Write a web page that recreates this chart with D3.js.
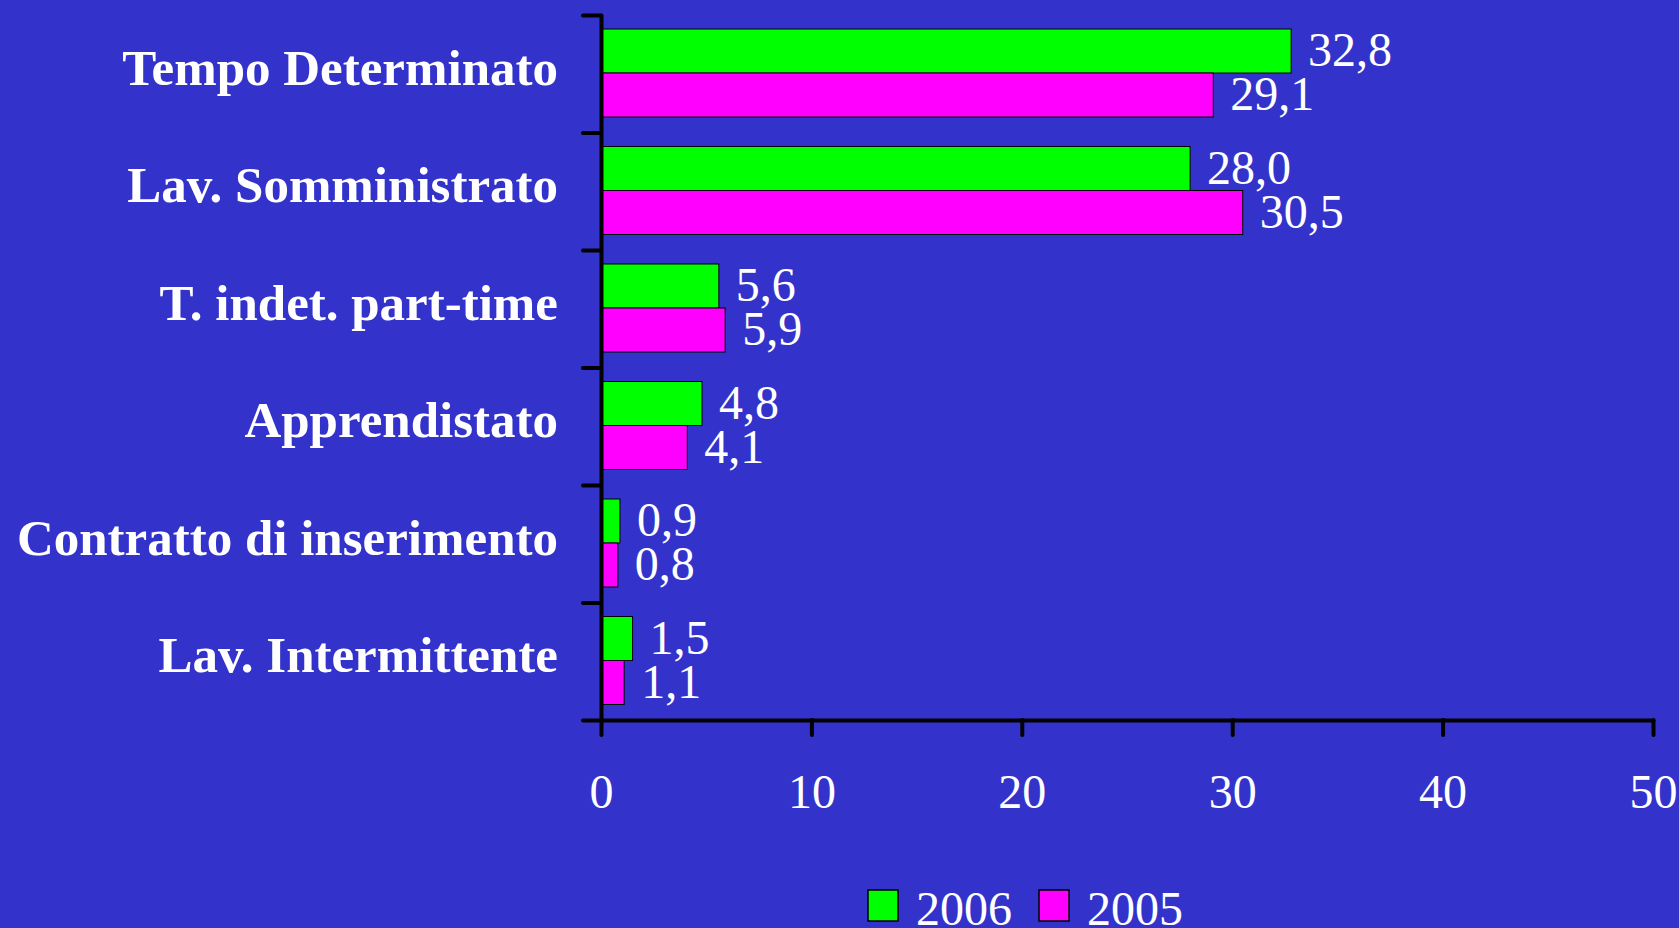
<!DOCTYPE html>
<html lang="it">
<head>
<meta charset="UTF-8">
<script src="https://d3js.org/d3.v7.min.js"></script>
<title>Contratti 2006 - 2005</title>
<style>
  body { margin: 0; background: #3333cc; }
  svg { display: block; }
</style>
</head>
<body>
<div id="chart"></div>
<script>
const categories = ["Tempo Determinato", "Lav. Somministrato", "T. indet. part-time",
                    "Apprendistato", "Contratto di inserimento", "Lav. Intermittente"];
const series = ["2006", "2005"];
const values2006 = [32.8, 28.0, 5.6, 4.8, 0.9, 1.5];
const values2005 = [29.1, 30.5, 5.9, 4.1, 0.8, 1.1];
const xTicks = [0, 10, 20, 30, 40, 50];
const colors = ["#00ff00", "#ff00ff"];

const width = 1679, height = 928;
const plotLeft = 601, plotRight = 1653, plotTop = 15, plotBottom = 720;

const itFormat = d3.formatLocale({decimal: ",", thousands: ".", grouping: [3], currency: ["", " €"]}).format(".1f");

const rows = categories.map((c, i) => ({cat: c, vals: [values2006[i], values2005[i]]}));

const svg = d3.select("#chart").append("svg")
    .attr("width", width)
    .attr("height", height)
    .style("font-family", "'Liberation Serif', 'Times New Roman', serif");

svg.append("rect").attr("width", width).attr("height", height).attr("fill", "#3333cc");

const x = d3.scaleLinear([0, 50], [plotLeft, plotRight]);
const y = d3.scaleBand(categories, [plotTop, plotBottom]);
const yInner = d3.scaleBand(series, [14, 102]);
const yEdge = d3.scaleLinear([0, categories.length], [plotTop, plotBottom]);

// bars
const group = svg.append("g")
  .selectAll("g")
  .data(rows)
  .join("g")
    .attr("transform", d => `translate(0,${y(d.cat)})`);

group.selectAll("rect")
  .data(d => d.vals.map((v, j) => ({v, s: series[j], j})))
  .join("rect")
    .attr("x", x(0))
    .attr("y", d => yInner(d.s))
    .attr("width", d => x(d.v) - x(0))
    .attr("height", yInner.bandwidth())
    .attr("fill", d => colors[d.j])
    .attr("stroke", "#000")
    .attr("stroke-width", 1);

group.selectAll("text")
  .data(d => d.vals.map((v, j) => ({v, s: series[j]})))
  .join("text")
    .attr("x", d => x(d.v) + 17)
    .attr("y", d => yInner(d.s) + yInner.bandwidth() / 2 + 15)
    .attr("fill", "#fff")
    .attr("font-size", 48)
    .text(d => itFormat(d.v));

// category labels
svg.append("g")
  .selectAll("text")
  .data(categories)
  .join("text")
    .attr("x", 558)
    .attr("y", d => y(d) + y.bandwidth() / 2 + 11)
    .attr("text-anchor", "end")
    .attr("fill", "#fff")
    .attr("font-weight", "bold")
    .attr("font-size", 51)
    .text(d => d);

// y axis (ticks between categories)
svg.append("g")
    .attr("transform", `translate(${plotLeft},0)`)
    .call(d3.axisLeft(yEdge).tickValues(d3.range(categories.length + 1)).tickSize(18).tickSizeOuter(0).tickFormat(""))
    .call(g => g.selectAll("path, line").attr("stroke", "#000").attr("stroke-width", 4).attr("stroke-linecap", "round"));

// x axis
svg.append("g")
    .attr("transform", `translate(0,${plotBottom})`)
    .call(d3.axisBottom(x).tickValues(xTicks).tickSize(15).tickSizeOuter(0))
    .call(g => g.selectAll("path, line").attr("stroke", "#000").attr("stroke-width", 4).attr("stroke-linecap", "round"))
    .call(g => g.selectAll("text")
        .attr("dy", null)
        .attr("y", 88)
        .attr("fill", "#fff")
        .attr("font-size", 48)
        .attr("font-family", "'Liberation Serif', 'Times New Roman', serif"));

// legend
const legend = svg.append("g")
  .selectAll("g")
  .data(series)
  .join("g")
    .attr("transform", (d, i) => `translate(${868 + i * 171},890)`);

legend.append("rect")
    .attr("width", 30)
    .attr("height", 31)
    .attr("fill", (d, i) => colors[i])
    .attr("stroke", "#000")
    .attr("stroke-width", 1.5);

legend.append("text")
    .attr("x", 48)
    .attr("y", 35)
    .attr("fill", "#fff")
    .attr("font-size", 48)
    .text(d => d);
</script>
</body>
</html>
